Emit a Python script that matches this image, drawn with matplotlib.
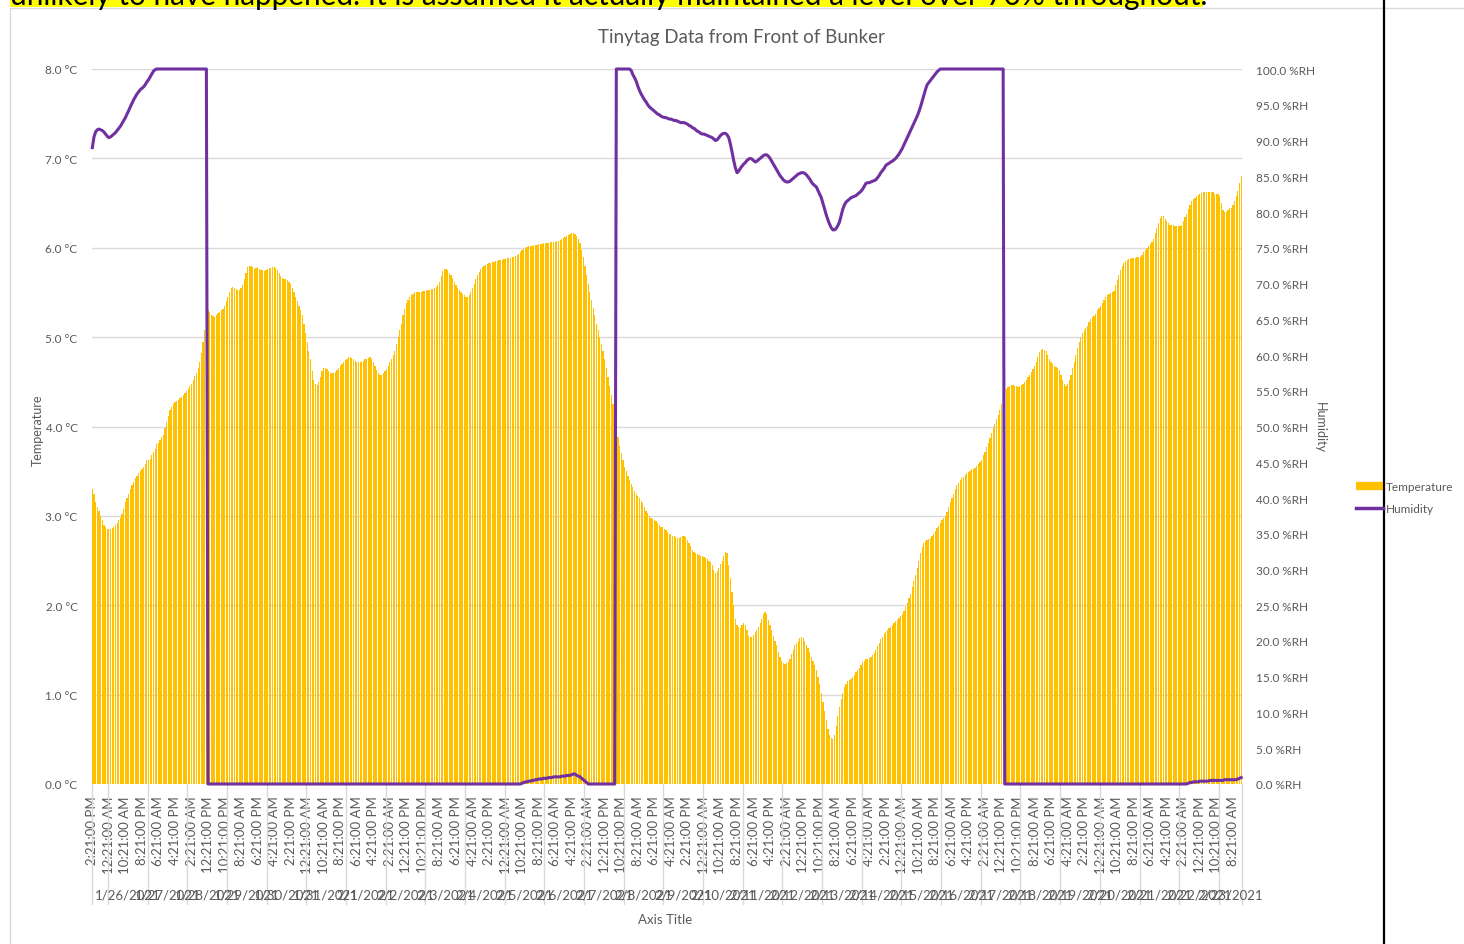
import numpy as np
import pandas as pd
import matplotlib
matplotlib.use("Agg")
import matplotlib.pyplot as plt
from matplotlib.lines import Line2D
from matplotlib.patches import Rectangle
from matplotlib.ticker import FuncFormatter, MultipleLocator

W, H = 1464, 945

# hourly logger readings, first one at 1/25/2021 2:21 PM
START = "2021-01-25 14:21"

temperature = [
    3.30, 3.25, 3.15, 3.10, 3.05, 3.00, 2.95, 2.90, 2.88, 2.85,  # 1/25
    2.85, 2.85, 2.86, 2.88, 2.90, 2.92, 2.95, 2.98, 3.02, 3.08, 3.15, 3.20, 3.25, 3.30, 3.35, 3.38, 3.42, 3.45, 3.48, 3.50, 3.52, 3.55, 3.58, 3.62,
    3.62, 3.64, 3.68, 3.72, 3.75, 3.80, 3.82, 3.85, 3.88, 3.90, 3.98, 4.05, 4.12, 4.18, 4.22, 4.25, 4.27, 4.28, 4.30, 4.32, 4.33, 4.35, 4.38, 4.40,
    4.42, 4.45, 4.48, 4.52, 4.56, 4.60, 4.66, 4.72, 4.82, 4.95, 5.08, 5.20, 5.30, 5.28, 5.25, 5.24, 5.23, 5.25, 5.27, 5.28, 5.30, 5.32, 5.35, 5.40,
    5.45, 5.50, 5.55, 5.56, 5.55, 5.54, 5.53, 5.53, 5.55, 5.58, 5.65, 5.72, 5.78, 5.80, 5.80, 5.78, 5.76, 5.77, 5.78, 5.76, 5.75, 5.75, 5.74, 5.75,
    5.76, 5.77, 5.77, 5.78, 5.78, 5.77, 5.75, 5.72, 5.68, 5.66, 5.65, 5.65, 5.64, 5.62, 5.60, 5.55, 5.50, 5.45, 5.40, 5.35, 5.30, 5.25, 5.15, 5.05,
    4.95, 4.85, 4.75, 4.62, 4.52, 4.47, 4.46, 4.50, 4.55, 4.62, 4.66, 4.66, 4.64, 4.62, 4.60, 4.60, 4.60, 4.61, 4.63, 4.65, 4.68, 4.70, 4.72, 4.74,
    4.76, 4.78, 4.78, 4.77, 4.75, 4.73, 4.72, 4.72, 4.72, 4.72, 4.73, 4.75, 4.76, 4.77, 4.78, 4.76, 4.72, 4.68, 4.63, 4.60, 4.58, 4.58, 4.60, 4.62,
    4.64, 4.68, 4.72, 4.76, 4.80, 4.85, 4.92, 5.00, 5.08, 5.15, 5.25, 5.32, 5.38, 5.42, 5.45, 5.47, 5.48, 5.50, 5.50, 5.50, 5.51, 5.51, 5.52, 5.52,
    5.52, 5.53, 5.53, 5.54, 5.54, 5.55, 5.56, 5.58, 5.62, 5.68, 5.74, 5.76, 5.76, 5.75, 5.72, 5.70, 5.66, 5.62, 5.58, 5.55, 5.53, 5.50, 5.48, 5.47,
    5.45, 5.45, 5.47, 5.50, 5.55, 5.60, 5.65, 5.70, 5.73, 5.76, 5.78, 5.80, 5.81, 5.82, 5.83, 5.83, 5.84, 5.84, 5.85, 5.85, 5.86, 5.86, 5.86, 5.87,
    5.87, 5.88, 5.88, 5.89, 5.90, 5.90, 5.91, 5.92, 5.93, 5.95, 5.97, 5.99, 6.00, 6.01, 6.02, 6.02, 6.02, 6.03, 6.03, 6.03, 6.04, 6.04, 6.04, 6.05,
    6.05, 6.05, 6.05, 6.06, 6.06, 6.06, 6.06, 6.07, 6.08, 6.09, 6.10, 6.11, 6.12, 6.13, 6.14, 6.15, 6.16, 6.16, 6.15, 6.13, 6.10, 6.05, 5.98, 5.90,
    5.80, 5.70, 5.60, 5.50, 5.42, 5.33, 5.25, 5.15, 5.08, 5.00, 4.92, 4.84, 4.76, 4.66, 4.55, 4.45, 4.35, 4.25, 4.10, 3.98, 3.88, 3.78, 3.70, 3.62,
    3.55, 3.50, 3.45, 3.40, 3.36, 3.32, 3.28, 3.25, 3.22, 3.20, 3.17, 3.14, 3.10, 3.06, 3.03, 3.00, 2.98, 2.96, 2.95, 2.94, 2.92, 2.90, 2.88, 2.87,
    2.85, 2.84, 2.82, 2.80, 2.80, 2.78, 2.77, 2.76, 2.75, 2.75, 2.76, 2.77, 2.78, 2.76, 2.73, 2.70, 2.66, 2.62, 2.60, 2.58, 2.57, 2.56, 2.55, 2.55,
    2.54, 2.53, 2.52, 2.50, 2.48, 2.45, 2.40, 2.36, 2.38, 2.42, 2.46, 2.50, 2.55, 2.60, 2.58, 2.45, 2.30, 2.15, 2.00, 1.85, 1.78, 1.76, 1.75, 1.78,
    1.80, 1.78, 1.72, 1.66, 1.64, 1.65, 1.67, 1.70, 1.72, 1.76, 1.80, 1.85, 1.90, 1.93, 1.90, 1.84, 1.78, 1.72, 1.66, 1.60, 1.55, 1.48, 1.42, 1.38,
    1.35, 1.34, 1.35, 1.37, 1.40, 1.45, 1.50, 1.55, 1.58, 1.60, 1.63, 1.64, 1.63, 1.60, 1.56, 1.52, 1.48, 1.42, 1.38, 1.33, 1.28, 1.20, 1.12, 1.02,
    0.92, 0.82, 0.72, 0.62, 0.55, 0.52, 0.50, 0.55, 0.65, 0.76, 0.86, 0.95, 1.02, 1.08, 1.12, 1.15, 1.16, 1.18, 1.20, 1.22, 1.25, 1.28, 1.30, 1.33,
    1.36, 1.38, 1.40, 1.40, 1.41, 1.42, 1.44, 1.47, 1.50, 1.54, 1.58, 1.62, 1.65, 1.68, 1.70, 1.72, 1.74, 1.76, 1.78, 1.80, 1.82, 1.84, 1.86, 1.88,
    1.90, 1.94, 1.98, 2.03, 2.08, 2.13, 2.20, 2.27, 2.34, 2.42, 2.50, 2.58, 2.65, 2.70, 2.72, 2.73, 2.74, 2.75, 2.78, 2.80, 2.83, 2.86, 2.89, 2.92,
    2.95, 2.98, 3.00, 3.04, 3.10, 3.15, 3.20, 3.25, 3.30, 3.34, 3.37, 3.40, 3.42, 3.44, 3.46, 3.48, 3.49, 3.50, 3.52, 3.53, 3.54, 3.56, 3.58, 3.60,
    3.63, 3.68, 3.72, 3.77, 3.82, 3.87, 3.93, 3.98, 4.03, 4.08, 4.13, 4.18, 4.25, 4.32, 4.38, 4.42, 4.44, 4.45, 4.46, 4.46, 4.45, 4.45, 4.44, 4.45,
    4.46, 4.48, 4.50, 4.52, 4.55, 4.58, 4.61, 4.64, 4.68, 4.72, 4.78, 4.83, 4.86, 4.87, 4.86, 4.84, 4.80, 4.75, 4.72, 4.70, 4.68, 4.67, 4.66, 4.63,
    4.58, 4.52, 4.47, 4.45, 4.48, 4.52, 4.58, 4.65, 4.72, 4.80, 4.88, 4.95, 5.00, 5.05, 5.08, 5.10, 5.13, 5.17, 5.20, 5.22, 5.24, 5.26, 5.30, 5.33,
    5.35, 5.38, 5.42, 5.45, 5.47, 5.48, 5.49, 5.50, 5.52, 5.58, 5.64, 5.70, 5.75, 5.80, 5.83, 5.85, 5.86, 5.87, 5.87, 5.88, 5.88, 5.89, 5.90, 5.90,
    5.90, 5.92, 5.95, 5.98, 6.00, 6.02, 6.04, 6.06, 6.10, 6.16, 6.22, 6.28, 6.33, 6.36, 6.35, 6.32, 6.30, 6.28, 6.26, 6.25, 6.25, 6.24, 6.24, 6.24,
    6.24, 6.26, 6.30, 6.34, 6.38, 6.43, 6.48, 6.52, 6.54, 6.56, 6.58, 6.59, 6.60, 6.61, 6.62, 6.62, 6.62, 6.62, 6.62, 6.62, 6.62, 6.60, 6.60, 6.60,
    6.58, 6.50, 6.42, 6.40, 6.40, 6.42, 6.44, 6.45, 6.48, 6.52, 6.58, 6.64, 6.72, 6.80,  # 2/23
]

humidity = (
    [89.0, 90.5, 91.2, 91.5, 91.6, 91.5, 91.4, 91.2, 90.9, 90.6, 90.4, 90.5, 90.7, 90.9, 91.1, 91.4, 91.7, 92.0, 92.4, 92.8,
     93.2, 93.7, 94.2, 94.7, 95.2, 95.7, 96.1, 96.5, 96.8, 97.1, 97.3, 97.5, 97.8, 98.2, 98.5, 98.9, 99.3, 99.7, 99.9]
    + [100.0] * 31
    + [0.0] * 190
    + [0.1, 0.2, 0.3, 0.3, 0.4, 0.4, 0.5, 0.5, 0.6, 0.6, 0.7, 0.7, 0.7, 0.8, 0.8, 0.8, 0.9, 0.9, 0.9, 1.0,
       1.0, 1.0, 1.0, 1.0, 1.1, 1.1, 1.1, 1.2, 1.2, 1.2, 1.3, 1.4, 1.4, 1.2, 1.1, 1.0, 0.8, 0.6, 0.4, 0.2]
    + [0.0] * 17
    + [100.0] * 9
    + [99.8, 99.2, 98.8, 98.3, 97.6, 97.0, 96.5, 96.1, 95.7, 95.4, 95.0, 94.7, 94.5, 94.3, 94.1, 93.9, 93.7, 93.6, 93.4, 93.3,
       93.2, 93.2, 93.1, 93.0, 93.0, 92.9, 92.8, 92.8, 92.7, 92.6, 92.5, 92.5, 92.5, 92.4, 92.3, 92.1, 92.0, 91.8, 91.7, 91.5, 91.3, 91.2, 91.0, 90.9,
       90.9, 90.8, 90.7, 90.6, 90.5, 90.4, 90.2, 90.0, 90.1, 90.4, 90.7, 90.9, 91.0, 91.0, 90.8, 90.4, 89.5, 88.4, 87.2, 86.2, 85.5, 85.7, 86.1, 86.4,
       86.7, 86.9, 87.2, 87.4, 87.5, 87.4, 87.2, 87.0, 87.1, 87.3, 87.5, 87.7, 87.9, 88.0, 88.0, 87.8, 87.5, 87.1, 86.7, 86.3, 85.9, 85.5, 85.1, 84.8,
       84.5, 84.3, 84.2, 84.2, 84.3, 84.5, 84.7, 84.9, 85.1, 85.3, 85.4, 85.5, 85.5, 85.4, 85.2, 84.9, 84.6, 84.2, 83.9, 83.7, 83.5, 83.0, 82.5, 82.0,
       81.2, 80.4, 79.6, 78.9, 78.3, 77.8, 77.5, 77.5, 77.7, 78.1, 78.6, 79.5, 80.4, 81.0, 81.4, 81.6, 81.8, 82.0, 82.1, 82.2, 82.3, 82.5, 82.7, 82.9,
       83.2, 83.6, 84.0, 84.1, 84.1, 84.2, 84.3, 84.4, 84.5, 84.8, 85.1, 85.5, 85.8, 86.1, 86.5, 86.7, 86.8, 87.0, 87.1, 87.3, 87.5, 87.8, 88.1, 88.5,
       88.9, 89.4, 89.9, 90.4, 90.9, 91.4, 91.9, 92.4, 92.9, 93.4, 94.0, 94.7, 95.5, 96.3, 97.1, 97.8, 98.1, 98.4, 98.7, 99.0, 99.3, 99.6, 99.8]
    + [100.0] * 39
    + [0.0] * 111
    + [0.1, 0.2, 0.2, 0.3, 0.3, 0.3, 0.3, 0.4, 0.4, 0.4, 0.4, 0.4, 0.4, 0.5, 0.5, 0.5, 0.5, 0.5, 0.5, 0.5,
       0.5, 0.5, 0.6, 0.6, 0.6, 0.6, 0.6, 0.6, 0.6, 0.6, 0.7, 0.8, 0.9]
)

TITLE = "Tinytag Data from Front of Bunker"
NOTE = "unlikely to have happened. It is assumed it actually maintained a level over 70% throughout."

GOLD = "#FFC000"
PURPLE = "#7030A0"
GREY = "#595959"
GRID = "#D9D9D9"

plt.rcParams["font.family"] = ["Lato", "DejaVu Sans"]


def px(x, y):
    # pixel position (top-left origin) -> figure fraction
    return x / W, 1 - y / H


n = len(temperature)
assert len(humidity) == n, (n, len(humidity))
times = pd.date_range(START, periods=n, freq="h")
idx = np.arange(n)

fig = plt.figure(figsize=(W / 100, H / 100), dpi=100)

# page bits around the pasted chart
fig.add_artist(Rectangle((10 / W, 1 - 8 / H), 1193 / W, 8 / H + 0.01, facecolor="#FFFF00", lw=0))
fig.text(*px(10, 5), NOTE, va="baseline", ha="left", fontsize=21.4, color="black")
fig.add_artist(Rectangle((10 / W, -0.05), 1.1, 1.05 - 9 / H, fill=False, edgecolor=GRID, lw=1))

ax = fig.add_axes([91.5 / W, 1 - 785 / H, 1150.5 / W, 715 / H])
ax.bar(idx, temperature, width=0.74, color=GOLD, linewidth=0, zorder=2)
ax.set_xlim(-0.5, n - 0.5)
ax.set_ylim(0, 8)
ax.yaxis.set_major_locator(MultipleLocator(1))
ax.yaxis.set_major_formatter(FuncFormatter(lambda v, p: f"{v:.1f} °C"))
ax.grid(axis="y", color=GRID, lw=1)
ax.set_axisbelow(True)
for s in ax.spines.values():
    s.set_visible(False)
ax.tick_params(axis="both", length=0, colors=GREY)
ax.tick_params(axis="y", labelsize=8.5, pad=10)

ticks = idx[::10]
ax.set_xticks(ticks)
ax.set_xticklabels([t.strftime("%-I:%M:%S %p") for t in times[ticks]], rotation=90, fontsize=9.5)
ax.tick_params(axis="x", pad=8)

# second level of the category axis: one group per calendar day
days = times.normalize()
bounds = [0] + list(np.flatnonzero(days[1:] != days[:-1]) + 1) + [n]
trans = ax.get_xaxis_transform()
for b in bounds:
    ax.plot([b - 0.5, b - 0.5], [0, -0.168], transform=trans, color=GRID, lw=1, clip_on=False)
for a, b in zip(bounds[:-1], bounds[1:]):
    if b - a < 12:
        continue
    ax.text((a + b - 1) / 2, -0.154, times[a].strftime("%-m/%-d/%Y"), transform=trans,
            ha="center", va="center", fontsize=9.5, color=GREY)

ax2 = ax.twinx()
ax2.plot(idx, humidity, color=PURPLE, lw=2.2, solid_joinstyle="round", clip_on=False)
ax2.set_ylim(0, 100)
ax2.yaxis.set_major_locator(MultipleLocator(5))
ax2.yaxis.set_major_formatter(FuncFormatter(lambda v, p: f"{v:.1f} %RH"))
ax2.tick_params(length=0, colors=GREY, labelsize=8.5, pad=10)
for s in ax2.spines.values():
    s.set_visible(False)

fig.text(*px(741, 37), TITLE, ha="center", va="center", fontsize=13.5, color=GREY)
fig.text(*px(38, 430), "Temperature", rotation=90, ha="center", va="center", fontsize=9, color=GREY)
fig.text(*px(1320, 428), "Humidity", rotation=270, ha="center", va="center", fontsize=9, color=GREY)
fig.text(*px(665, 920), "Axis Title", ha="center", va="center", fontsize=9.5, color=GREY)

handles = [Line2D([], [], color=GOLD, lw=6, solid_capstyle="butt"),
           Line2D([], [], color=PURPLE, lw=2.5)]
fig.legend(handles, ["Temperature", "Humidity"], loc="upper left", bbox_to_anchor=px(1348, 474),
           frameon=False, handlelength=2.3, handletextpad=0.2, labelspacing=0.9,
           fontsize=8.5, labelcolor=GREY, borderpad=0.2)

fig.add_artist(Line2D([1384 / W, 1384 / W], [0, 1], color="black", lw=1.6))

fig.savefig("out.png", dpi=100)
